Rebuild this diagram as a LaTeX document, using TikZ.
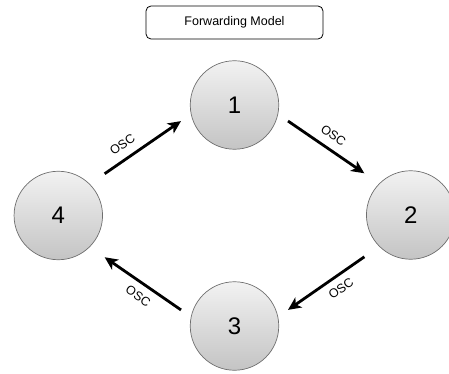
\documentclass[tikz,border=0pt]{standalone}
\usepackage{fontspec}
\setmainfont{Liberation Sans}
\usetikzlibrary{arrows.meta}
\begin{document}
\begin{tikzpicture}[x=1pt,y=-1pt,
  station/.style={circle, minimum size=88.5pt, inner sep=0pt, draw={rgb,255:red,110;green,110;blue,110}, line width=0.7pt,
    top color={rgb,255:red,242;green,242;blue,242}, bottom color={rgb,255:red,196;green,196;blue,196},
    font=\fontsize{24}{28}\selectfont},
  arr/.style={line width=2.8pt, -{Stealth[length=13pt,width=12pt,inset=3.5pt]}},
  lbl/.style={font=\fontsize{12.5}{14}\selectfont, inner sep=1pt},
  titlebox/.style={draw, rounded corners=5pt, line width=0.8pt, minimum width=177pt, minimum height=33pt, inner sep=0pt, font=\fontsize{12.5}{15}\selectfont}]
\useasboundingbox (0,0) rectangle (449,374);
\node[titlebox] (title) at (234.5,22.5) {Forwarding Model};
\node[station] (n1) at (234.5,105) {1};
\node[station] (n2) at (410.7,215) {2};
\node[station] (n3) at (234.5,326) {3};
\node[station] (n4) at (58.3,215.5) {4};
\draw[arr, shorten <=18pt, shorten >=12pt] (n4.45) -- node[lbl, sloped, above=7pt, pos=0.4] (l1) {OSC} (n1.192);
\draw[arr, shorten <=12pt, shorten >=18pt] (n1.348) -- node[lbl, sloped, above=7pt, pos=0.47] (l2) {OSC} (n2.135);
\draw[arr, shorten <=18pt, shorten >=12pt] (n2.225) -- node[lbl, sloped, below=6pt, pos=0.45] (l3) {OSC} (n3.12);
\draw[arr, shorten <=12pt, shorten >=18pt] (n3.168) -- node[lbl, sloped, below=6pt, pos=0.45] (l4) {OSC} (n4.315);
\end{tikzpicture}
\end{document}
